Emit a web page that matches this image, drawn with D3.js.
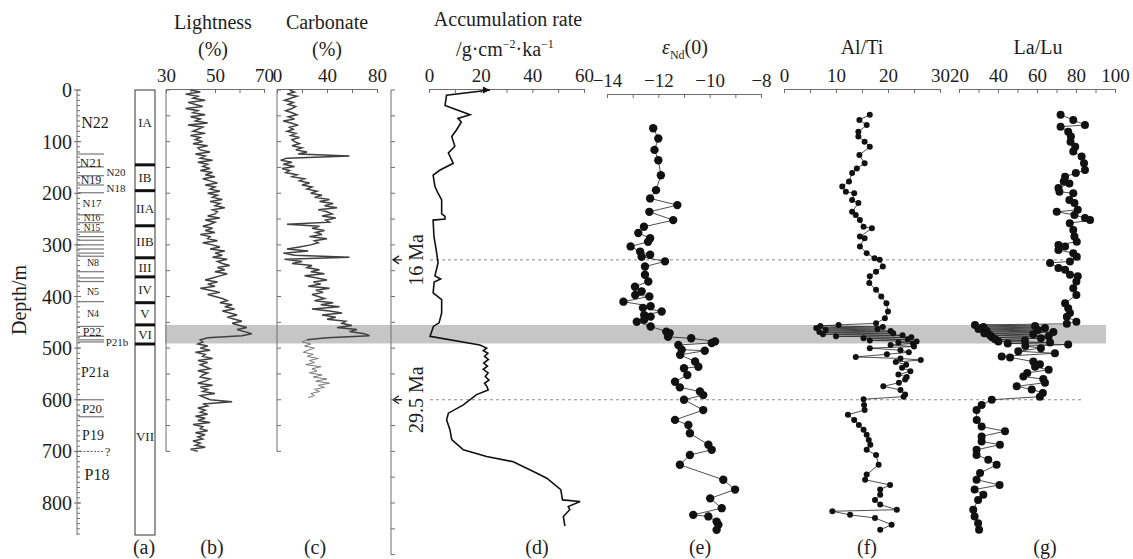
<!DOCTYPE html>
<html>
<head>
<meta charset="UTF-8">
<title>Core profiles</title>
<script src="https://d3js.org/d3.v7.min.js"></script>
<style>
body { margin: 0; background: #fff; }
svg text { font-family: "Liberation Serif", "Times New Roman", serif; fill: #1e1e1e; }
</style>
</head>
<body>
<svg id="chart" width="1133" height="559"></svg>
<script>
// ---- data ----
var lightStep = 4; // m between lightness samples, starting at 0 m
var lightness = [40,44,38,43,41,46,39,42,45,38,43,
  41,46,40,44,42,47,39,45,43,41,46,40,44,42,
  45,41,47,43,44,48,42,46,44,49,43,47,45,
  48,44,49,46,50,45,48,51,46,50,48,52,47,
  51,49,53,48,52,50,54,49,51,50,
  47,52,46,50,48,
  45,49,46,50,44,48,47,51,45,49,
  52,48,54,50,53,49,55,51,
  53,56,51,54,50,55,52,
  49,46,51,47,50,44,48,52,47,50,53,
  55,52,57,54,58,53,56,59,55,
  58,61,57,60,63,59,62,65,61,
  47,44,
  45,43,47,44,48,42,46,45,49,43,47,44,46,48,43,47,45,44,48,
  46,43,49,44,47,45,50,44,46,48,57,45,47,43,46,
  44,47,42,46,43,48,41,45,44,47,42,46,43,45,41,44,42,46,40,43];

var carbStep = 4;
var carbonateUpper = [10,14,8,16,11,6,13,9,15,12,7,
  12,16,9,14,5,11,17,10,13,8,15,11,18,12,
  14,18,12,20,15,24,17,
  58,
  8,3,12,5,14,4,10,7,
  16,12,22,18,26,20,28,24,32,27,
  36,30,42,34,45,38,48,33,40,44,36,47,39,42,
  8,
  34,28,38,31,36,26,40,30,33,27,
  18,8,25,5,14,
  58,
  6,20,12,28,
  24,34,27,38,22,32,40,29,35,25,42,31,37,28,33,
  38,30,45,35,50,28,42,52,36,47,40,55,
  52,60,48,64,58,70,74,
  40];
var carbLowerTop = 484;
var carbonateLower = [24,20,27,22,30,25,21,29,24,33,26,30,23,35,28,32,26,36,29,40,31,42,33,38,30,34,27,30,25];

var accDepth = [0,10,30,48,55,62,77,90,109,122,142,155,165,187,200,213,240,245,250,252,283,310,335,360,366,372,393,406,432,451,458,477,494,500,505,510,516,522,529,535,541,548,555,562,568,575,581,590,610,626,639,658,677,697,710,720,739,752,774,794,797,807,813,826,845];
var accRate = [23.6,6.8,6.2,15.9,11.2,12.5,10.7,8.8,10.0,7.5,9.4,4.3,1.6,2.3,3.5,4.9,4.9,6.2,6.2,1.6,1.9,2.8,3.5,2.3,4.5,2.0,1.6,4.9,4.9,3.9,1.7,0.4,19.7,22.3,21.0,22.8,21.5,23.0,21.2,22.6,21.0,22.9,21.8,23.2,21.5,22.5,22.9,18.4,13.3,7.5,6.8,8.1,8.8,13.3,22.3,32.6,40.4,45.6,51.0,51.7,58.5,53.9,54.5,52.0,52.6];

var ndDepth = [74,94,116,136,165,194,210,223,236,252,265,277,287,294,303,313,319,323,332,342,358,371,381,390,397,400,410,419,422,429,436,439,445,449,458,468,471,478,481,487,490,494,503,505,513,526,536,539,552,565,576,584,591,600,620,639,649,665,687,697,707,726,755,774,791,810,823,826,836,842,852];
var ndValue = [-12.2,-12.0,-12.15,-12.0,-11.9,-12.09,-12.32,-11.26,-12.35,-11.42,-12.56,-12.78,-12.32,-12.4,-13.08,-12.71,-12.32,-12.65,-11.74,-12.52,-12.52,-12.39,-12.91,-12.65,-12.9,-12.35,-13.36,-12.3,-12.6,-11.87,-12.55,-12.3,-12.55,-12.84,-12.3,-11.69,-11.56,-11.62,-10.72,-9.79,-9.92,-11.22,-11.09,-10.19,-11.15,-10.57,-10.44,-11.0,-10.87,-11.35,-11.16,-10.38,-10.25,-11.0,-10.25,-11.35,-10.83,-10.77,-10.05,-9.92,-10.77,-11.16,-9.47,-9.01,-9.98,-9.53,-10.64,-10.05,-9.73,-9.66,-9.73];

var alDepth = [48,58,68,81,90,100,110,126,142,152,161,177,187,197,200,213,219,236,242,252,265,268,284,287,303,316,326,329,342,352,361,374,387,400,413,429,442,452,
  455,457,459,461,463,465,467,469,471,473,475,477,479,481,483,485,487,489,491,494,497,500,504,508,512,517,520,523,527,532,538,545,551,556,561,567,574,581,590,594,599,
  610,620,629,639,649,658,668,678,687,697,707,726,745,755,765,774,784,794,803,813,816,823,829,842,852];
var alTi = [16.5,14.5,15.9,14.3,14.3,15.5,16.5,14.5,15.5,14.0,13.1,12.5,11.2,11.9,13.5,13.1,14.3,13.1,13.8,14.6,15.3,16.9,14.6,15.5,14.6,15.9,17.4,18.4,19.0,17.7,16.5,16.4,17.7,18.7,19.7,20.0,19.4,17.7,
  10.5,7.0,19.0,6.2,18.0,8.0,20.5,6.8,21.0,7.5,22.8,10.0,24.5,15.3,23.8,16.5,25.5,22.0,24.8,20.5,25.0,16.5,22.4,24.0,19.8,13.8,22.4,26.3,21.5,23.5,22.7,24.3,22.0,23.6,23.3,22.1,19.1,22.4,23.3,23.0,15.3,
  15.4,15.5,12.3,13.5,14.4,15.3,15.9,16.3,16.6,15.9,17.7,18.2,15.9,15.6,20.4,18.5,18.5,17.5,18.5,21.7,9.3,12.7,17.5,20.7,18.5];

var laDepth = [48,58,68,71,81,90,100,110,119,129,142,155,161,168,177,181,190,197,200,213,219,232,236,242,248,252,258,271,284,294,300,303,310,316,323,332,335,345,348,358,361,371,384,397,413,423,432,439,449,453,
  455,457,459,461,463,465,467,469,471,473,475,477,479,481,483,485,487,489,491,493,496,500,
  506,510,516,518,526,531,536,542,548,555,560,567,574,580,587,594,600,610,620,639,652,661,671,681,687,697,707,716,726,742,755,765,774,784,794,813,826,839,852];
var laLu = [72.1,78.6,84.6,72.1,76,77.4,77.2,79.6,78.6,82.9,84.1,84.6,79.9,74.4,73.7,76.6,71.0,71.5,78.6,76.6,79.2,80.9,70.1,79.2,84.6,87.2,76.8,78.6,79.2,80.4,71.0,74.4,71.0,78.6,80.4,76.9,66.7,71.0,74.4,76.9,80.9,80.2,78.6,80.2,74.4,76,76.9,75.3,80.2,75.3,
  28.2,59.0,32.5,64.1,30.0,60.5,34.2,68.4,33.0,58.1,35.9,66.0,37.0,62.0,38.5,53.8,40.2,66.7,45.0,76.0,54.0,62.0,
  50.4,69.2,41.9,46.2,58.1,61.5,59.0,66.0,55.0,53.0,63.2,64.1,49.6,57.3,63.0,61.5,36.8,31.6,29.0,29.1,31.6,43.6,31.6,31.6,41.0,29.0,29.0,35.0,39.3,30.8,29.0,40.8,28.0,32.5,29.8,27.3,28.0,29.8,30.3];

// biostratigraphic zones (a)
var zoneLines = [124,149,166,184,199,242,257,275,284,291,300,308,316,322,352,364,371,410,458,477,484,488,600,633];
var zoneNames = ["N22","N21","N20","N19","N18","N17","N16","N15","N8","N5","N4","P22","P21b","P21a","P20","P19","P18"];
var zoneDepths = [62,141,159,174,190,219,248,267,335,391,432,468,488,546,616,668,745];
var unitBounds = [145,195,263,325,362,412,455,492];
var unitNames = ["IA","IB","IIA","IIB","III","IV","V","VI","VII"];
var unitDepths = [62,170,229,294,343,387,433,473,672];

var depthTicks = [0,100,200,300,400,500,600,700,800];
var bandTop = 455, bandBottom = 491;
var ageDepths = [329, 600];
var ageLabels = ["16 Ma", "29.5 Ma"];

// ---- drawing ----
var svg = d3.select("#chart");
var y = d3.scaleLinear().domain([0, 800]).range([90, 503]);

var lightX = d3.scaleLinear().domain([30, 70]).range([166, 264]);
var carbX = d3.scaleLinear().domain([0, 80]).range([277, 377]);
var accX = d3.scaleLinear().domain([0, 60]).range([429, 584]);
var ndX = d3.scaleLinear().domain([-14, -8]).range([607, 761]);
var alX = d3.scaleLinear().domain([0, 30]).range([784, 940]);
var laX = d3.scaleLinear().domain([20, 100]).range([959, 1115]);

var axisColor = "#6e6e6e";

// grey band and age lines
svg.append("rect").attr("x", 165).attr("width", 1106 - 165)
  .attr("y", y(bandTop)).attr("height", y(bandBottom) - y(bandTop))
  .attr("fill", "#c6c6c6");

ageDepths.forEach(function(d, i) {
  svg.append("line").attr("x1", 430).attr("x2", 1083).attr("y1", y(d)).attr("y2", y(d))
    .attr("stroke", "#8a8a8a").attr("stroke-width", 1).attr("stroke-dasharray", "3,3");
  svg.append("path")
    .attr("d", "M399," + (y(d) - 4) + " L393," + y(d) + " L399," + (y(d) + 4) + " M393," + y(d) + " H402")
    .attr("fill", "none").attr("stroke", "#222").attr("stroke-width", 1.3);
  svg.append("text").attr("transform", "translate(423," + y(d) + ") rotate(-90)")
    .attr("text-anchor", "middle").attr("font-size", 20).text(ageLabels[i]);
});

// main depth axis
var depthAxis = svg.append("g").attr("transform", "translate(77,0)");
depthAxis.append("line").attr("y1", 90).attr("y2", 535).attr("stroke", axisColor);
depthAxis.selectAll(".minor").data(d3.range(0, 861, 10)).join("line")
  .attr("x1", 0).attr("x2", 3).attr("y1", function(d) { return y(d); }).attr("y2", function(d) { return y(d); })
  .attr("stroke", axisColor);
depthAxis.selectAll(".major").data(depthTicks).join("line")
  .attr("x1", -3).attr("x2", 4).attr("y1", function(d) { return y(d); }).attr("y2", function(d) { return y(d); })
  .attr("stroke", axisColor);
depthAxis.selectAll("text").data(depthTicks).join("text")
  .attr("x", -5).attr("y", function(d) { return y(d); }).attr("dy", "0.35em")
  .attr("text-anchor", "end").attr("font-size", 20).text(function(d) { return d; });
svg.append("text").attr("transform", "translate(26,300) rotate(-90)")
  .attr("text-anchor", "middle").attr("font-size", 20).text("Depth/m");

// zone column
svg.selectAll(".zl").data(zoneLines).join("line")
  .attr("x1", 78).attr("x2", 104).attr("y1", function(d) { return y(d); }).attr("y2", function(d) { return y(d); })
  .attr("stroke", "#777").attr("stroke-width", 1.2);
svg.append("line").attr("x1", 80).attr("x2", 104).attr("y1", y(700)).attr("y2", y(700))
  .attr("stroke", "#555").attr("stroke-dasharray", "2,1.5");
svg.append("text").attr("x", 105).attr("y", y(700)).attr("dy", "0.35em").attr("font-size", 12).text("?");
var zoneX = [95,91,116,91,116,92,92,92,93,93,93,92,117,95,92,93,97];
var zoneSize = [16,13,11,12,11,11,9.5,9.5,10,10,10,12,11,14,13,14,16];
svg.selectAll(".zt").data(zoneNames).join("text")
  .attr("x", function(d, i) { return zoneX[i]; })
  .attr("y", function(d, i) { return y(zoneDepths[i]); }).attr("dy", "0.35em")
  .attr("text-anchor", "middle").attr("font-size", function(d, i) { return zoneSize[i]; })
  .text(function(d) { return d; });

// lithologic units column
svg.append("rect").attr("x", 135).attr("y", 90).attr("width", 20).attr("height", 535 - 90)
  .attr("fill", "none").attr("stroke", "#333").attr("stroke-width", 1);
svg.selectAll(".ub").data(unitBounds).join("rect")
  .attr("x", 135).attr("width", 20).attr("y", function(d) { return y(d) - 1.5; }).attr("height", 3)
  .attr("fill", "#111");
svg.selectAll(".ut").data(unitNames).join("text")
  .attr("x", 145).attr("y", function(d, i) { return y(unitDepths[i]); }).attr("dy", "0.35em")
  .attr("text-anchor", "middle").attr("font-size", 13).text(function(d) { return d; });

// vertical depth axes of panels b, c, d
function sideAxis(x0, maxDepth) {
  var g = svg.append("g");
  g.append("line").attr("x1", x0).attr("x2", x0).attr("y1", y(0)).attr("y2", y(maxDepth)).attr("stroke", axisColor);
  g.selectAll("line.t").data(d3.range(0, maxDepth + 1, 50)).join("line").attr("class", "t")
    .attr("x1", x0).attr("x2", x0 + 4).attr("y1", function(d) { return y(d); }).attr("y2", function(d) { return y(d); })
    .attr("stroke", axisColor);
}
sideAxis(166, 700);
sideAxis(277, 700);
sideAxis(391, 900);

// top axes
function topAxis(scale, y0, majors, minors, fmt) {
  var gm = svg.append("g").attr("transform", "translate(0," + y0 + ")")
    .call(d3.axisTop(scale).tickValues(minors).tickSize(-4).tickSizeOuter(0).tickFormat(""));
  var g = svg.append("g").attr("transform", "translate(0," + y0 + ")")
    .call(d3.axisTop(scale).tickValues(majors).tickSize(-4).tickSizeOuter(0).tickPadding(7).tickFormat(fmt));
  [gm, g].forEach(function(s) {
    s.selectAll("path, line").attr("stroke", axisColor);
  });
  g.selectAll("text").attr("font-size", 19);
}
var fmt = d3.format("d");
topAxis(lightX, 89, [30, 50, 70], [40, 60], fmt);
topAxis(carbX, 89, [0, 40, 80], [20, 60], fmt);
topAxis(accX, 89, [0, 20, 40, 60], [10, 30, 50], fmt);
topAxis(ndX, 94, [-14, -12, -10, -8], [-13, -11, -9], fmt);
topAxis(alX, 89, [0, 10, 20, 30], [5, 15, 25], fmt);
topAxis(laX, 89, [20, 40, 60, 80, 100], [30, 50, 70, 90], fmt);

// titles
function title(x, yy, str) {
  return svg.append("text").attr("x", x).attr("y", yy).attr("text-anchor", "middle").attr("font-size", 20).text(str);
}
title(213, 29, "Lightness"); title(213, 56, "(%)");
title(327, 29, "Carbonate"); title(327, 56, "(%)");
title(508, 26, "Accumulation rate");
var unitT = svg.append("text").attr("x", 505).attr("y", 56).attr("text-anchor", "middle").attr("font-size", 20);
unitT.append("tspan").text("/g\u00b7cm");
unitT.append("tspan").attr("font-size", 12).attr("dy", -8).text("\u22122");
unitT.append("tspan").attr("dy", 8).text("\u00b7ka");
unitT.append("tspan").attr("font-size", 12).attr("dy", -8).text("\u22121");
var ndT = svg.append("text").attr("x", 685).attr("y", 54).attr("text-anchor", "middle").attr("font-size", 20);
ndT.append("tspan").attr("font-style", "italic").text("\u03b5");
ndT.append("tspan").attr("font-size", 12).attr("dy", 5).text("Nd");
ndT.append("tspan").attr("dy", -5).text("(0)");
title(862, 54, "Al/Ti");
title(1038, 54, "La/Lu");

var panelLabels = ["(a)", "(b)", "(c)", "(d)", "(e)", "(f)", "(g)"];
var panelLabelX = [144, 212, 315, 537, 700, 867, 1045];
svg.selectAll(".pl").data(panelLabels).join("text")
  .attr("x", function(d, i) { return panelLabelX[i]; }).attr("y", 554)
  .attr("text-anchor", "middle").attr("font-size", 20).text(function(d) { return d; });

// (b) lightness
var lightData = lightness.map(function(v, i) { return { d: i * lightStep, v: v }; });
svg.append("path").datum(lightData)
  .attr("d", d3.line().x(function(p) { return lightX(p.v); }).y(function(p) { return y(p.d); }))
  .attr("fill", "none").attr("stroke", "#404040").attr("stroke-width", 1.5);

// (c) carbonate
var carbUp = carbonateUpper.map(function(v, i) { return { d: i * carbStep, v: v }; });
var carbLo = carbonateLower.map(function(v, i) { return { d: carbLowerTop + i * carbStep, v: v }; });
var carbLine = d3.line().x(function(p) { return carbX(p.v); }).y(function(p) { return y(p.d); });
svg.append("path").datum(carbUp.concat([carbLo[0]])).attr("d", carbLine)
  .attr("fill", "none").attr("stroke", "#404040").attr("stroke-width", 1.5);
svg.append("path").datum(carbLo).attr("d", carbLine)
  .attr("fill", "none").attr("stroke", "#7a7a7a").attr("stroke-width", 1);

// (d) accumulation rate
var accData = accDepth.map(function(d, i) { return { d: d, v: accRate[i] }; });
svg.append("path").datum(accData)
  .attr("d", d3.line().x(function(p) { return accX(p.v); }).y(function(p) { return y(p.d); }))
  .attr("fill", "none").attr("stroke", "#111").attr("stroke-width", 1.6);
var ax0 = accX(accRate[0]), ay0 = y(accDepth[0]);
svg.append("path").attr("d", "M" + (ax0 - 7) + "," + (ay0 - 3.5) + " L" + ax0 + "," + ay0 + " L" + (ax0 - 7) + "," + (ay0 + 3.5) + "Z")
  .attr("fill", "#111");

// (e)-(g) point series
function dotSeries(depths, vals, xs, r) {
  var data = depths.map(function(d, i) { return { d: d, v: vals[i] }; });
  svg.append("path").datum(data)
    .attr("d", d3.line().x(function(p) { return xs(p.v); }).y(function(p) { return y(p.d); }))
    .attr("fill", "none").attr("stroke", "#222").attr("stroke-width", 0.8);
  svg.append("g").selectAll("circle").data(data).join("circle")
    .attr("cx", function(p) { return xs(p.v); }).attr("cy", function(p) { return y(p.d); })
    .attr("r", r).attr("fill", "#111");
}
dotSeries(ndDepth, ndValue, ndX, 4.2);
dotSeries(alDepth, alTi, alX, 3);
dotSeries(laDepth, laLu, laX, 4);
</script>
</body>
</html>
